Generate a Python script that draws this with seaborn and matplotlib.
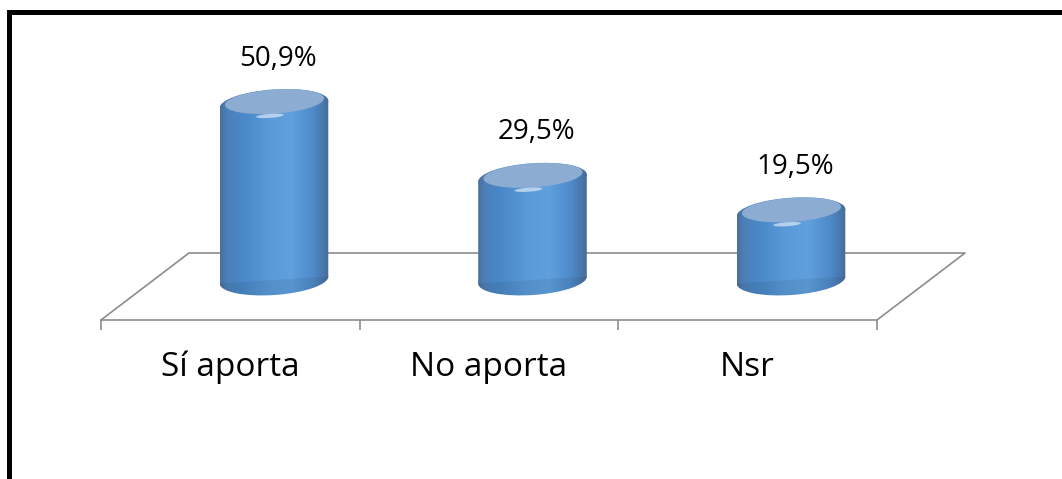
import numpy as np
import matplotlib
matplotlib.use("Agg")
import matplotlib.pyplot as plt
import matplotlib.transforms as mtransforms
from matplotlib.patches import Ellipse, Polygon
from matplotlib.colors import LinearSegmentedColormap
import seaborn as sns
import pandas as pd

categories = ["Sí aporta", "No aporta", "Nsr"]
values = [50.9, 29.5, 19.5]
value_labels = ["50,9%", "29,5%", "19,5%"]

sns.set_theme(style="white")
plt.rcParams['font.family'] = ['Open Sans', 'DejaVu Sans']

W, H = 1062, 479
fig = plt.figure(figsize=(W / 100, H / 100), dpi=100)
fig.patch.set_facecolor('white')

# ---- frame (top and left border) ----
bg = fig.add_axes([0, 0, 1, 1])
bg.set_xlim(0, W)
bg.set_ylim(H, 0)
bg.axis('off')
bg.plot([8.5, 8.5, W + 5], [H + 5, 11.5, 11.5], color='black', lw=3.6,
        solid_joinstyle='miter')

GRAY = '#8c8c8c'
# ---- floor / category axis ----
ax_cat = fig.add_axes([101 / W, (H - 320) / H, 776 / W, 67 / H])
ax_cat.patch.set_alpha(0)
ax_cat.set_xlim(-0.5, len(categories) - 0.5)
ax_cat.set_ylim(0, 1)
for s in ['left', 'top', 'right']:
    ax_cat.spines[s].set_visible(False)
ax_cat.spines['bottom'].set_color(GRAY)
ax_cat.spines['bottom'].set_linewidth(1.2)
ax_cat.set_yticks([])
ax_cat.set_xticks(range(len(categories)), categories)
ax_cat.set_xticks(np.arange(-0.5, len(categories)), minor=True)
ax_cat.tick_params(axis='x', which='major', length=0, pad=22, labelsize=24,
                   labelcolor='black', bottom=True)
ax_cat.tick_params(axis='x', which='minor', length=7.5, width=1.2,
                   color=GRAY, direction='out', bottom=True)
dx = 88 / 776
ax_cat.plot([0, dx, 1 + dx, 1], [0, 1, 1, 0], transform=ax_cat.transAxes,
            color=GRAY, lw=1.2, clip_on=False)

# ---- cylinders ----
PX = 3.45         # pixels per data unit
YMIN, YMAX = -12, 62
base_px = 280
ax = fig.add_axes([144.75 / W, (H - base_px - (-YMIN) * PX) / H, 775.5 / W,
                   (YMAX - YMIN) * PX / H])
ax.patch.set_alpha(0)

df = pd.DataFrame({"categoria": categories, "valor": values})
sns.barplot(data=df, x="categoria", y="valor", ax=ax, width=0.42,
            color='#5b9bd5', saturation=1, linewidth=0, zorder=2)
ax.set_xlim(-0.5, len(categories) - 0.5)
ax.set_ylim(YMIN, YMAX)
ax.axis('off')

cmap = LinearSegmentedColormap.from_list('cyl', [
    (0.00, '#4a6f9c'), (0.06, '#4c7fb7'), (0.20, '#4988c8'),
    (0.45, '#5a9ad8'), (0.65, '#5fa0dd'), (0.85, '#4f8bcb'),
    (0.95, '#4878ad'), (1.00, '#4a6a92')])
grad = cmap(np.linspace(0, 1, 256))[None, :, :]
grad_dark = grad.copy()
grad_dark[..., :3] *= 0.93

EW, EH, ANG = 1.09, 0.30, 4.0   # ellipse size in inches, tilt
# vertical offset (data units) of the side tangent points of a tilted ellipse
a, b, t = EW * 50, EH * 50, np.radians(ANG)
xt = np.sqrt((a * np.cos(t)) ** 2 + (b * np.sin(t)) ** 2)
dy = (a ** 2 - b ** 2) * np.sin(t) * np.cos(t) / xt / PX

for p, lab in zip(ax.patches, value_labels):
    x0, w, h = p.get_x(), p.get_width(), p.get_height()
    xc = x0 + w / 2
    p.set_visible(False)
    body = Polygon([(x0, -dy), (x0, h - dy), (x0 + w, h + dy), (x0 + w, dy)],
                   closed=True, facecolor='none', edgecolor='none')
    ax.add_patch(body)
    im = ax.imshow(grad, extent=(x0, x0 + w, -5, h + 5), aspect='auto',
                   interpolation='bicubic', zorder=2)
    im.set_clip_path(body)
    # bottom cap
    tb = fig.dpi_scale_trans + mtransforms.ScaledTranslation(xc, 0, ax.transData)
    eb = Ellipse((0, 0), EW, EH, angle=ANG, transform=tb, facecolor='none',
                 edgecolor='none')
    ax.add_patch(eb)
    im2 = ax.imshow(grad_dark, extent=(x0, x0 + w, YMIN, 1), aspect='auto',
                    interpolation='bicubic', zorder=1.9)
    im2.set_clip_path(eb)
    # top cap: bevel rim + face
    tt = fig.dpi_scale_trans + mtransforms.ScaledTranslation(xc, h, ax.transData)
    et = Ellipse((0, 0), EW, EH, angle=ANG, transform=tt,
                 facecolor='none', edgecolor='none')
    ax.add_patch(et)
    im3 = ax.imshow(grad, extent=(x0, x0 + w, h - 12, h + 12), aspect='auto',
                    interpolation='bicubic', zorder=3)
    im3.set_clip_path(et)
    face = Ellipse((0.005, 0.028), EW * 0.91, EH * 0.8, angle=ANG, transform=tt,
                   facecolor='#8cadd1', edgecolor='none', zorder=4)
    ax.add_patch(face)
    hl = Ellipse((-0.04, -0.115), 0.28, 0.04, angle=ANG, transform=tt,
                 facecolor='white', edgecolor='none', alpha=0.55, zorder=5)
    ax.add_patch(hl)
    ax.annotate(lab, xy=(xc, h), xytext=(3, 28), textcoords='offset points',
                ha='center', va='baseline', fontsize=20, color='black',
                annotation_clip=False)

fig.savefig('out.png', dpi=100, facecolor='white')
